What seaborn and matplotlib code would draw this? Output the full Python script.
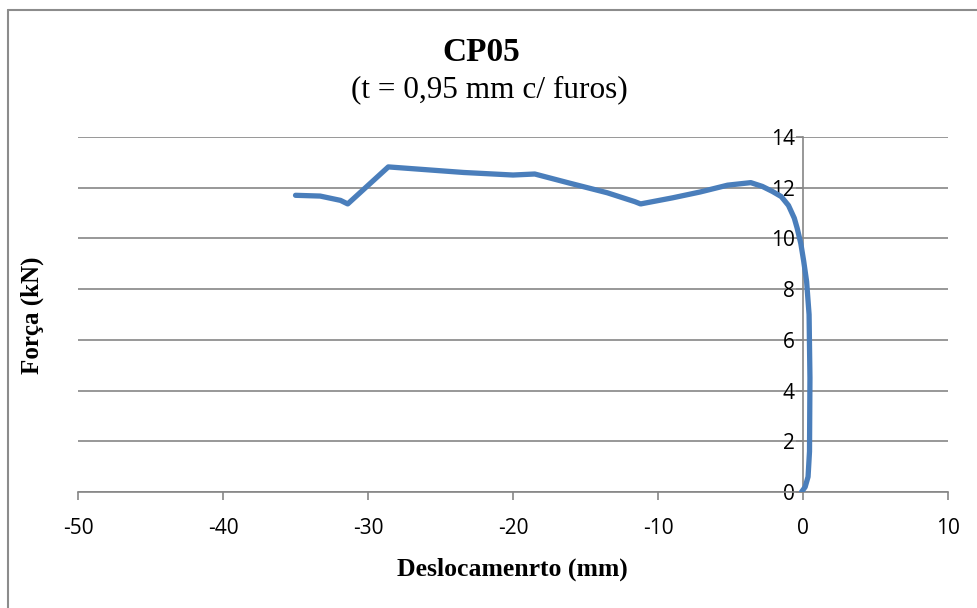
import matplotlib
matplotlib.use("Agg")
import matplotlib.pyplot as plt
import seaborn as sns
import pandas as pd
from matplotlib.lines import Line2D

# Data (loading order)
deslocamento = [-0.1, 0.15, 0.35, 0.45, 0.48, 0.48, 0.42, 0.25, 0.05, -0.15, -0.4, -0.6,
                -1.0, -1.5, -2.1, -2.8, -3.6, -5.2, -7.1, -9.0, -11.2, -11.6, -13.5,
                -16.1, -18.5, -20.0, -23.4, -28.6, -31.4, -31.9, -33.3, -35.0]
forca = [0.0, 0.2, 0.6, 1.6, 3.0, 6.0, 7.0, 8.3, 9.1, 9.8, 10.4, 10.8,
         11.3, 11.65, 11.85, 12.05, 12.2, 12.1, 11.83, 11.6, 11.36, 11.45, 11.8,
         12.18, 12.54, 12.5, 12.6, 12.82, 11.36, 11.5, 11.67, 11.7]
x_ticks = [-50, -40, -30, -20, -10, 0, 10]
y_ticks = [0, 2, 4, 6, 8, 10, 12, 14]

df = pd.DataFrame({"x": deslocamento, "y": forca})

sns.set_style("white")
plt.rcParams["text.color"] = "black"
plt.rcParams["xtick.color"] = "black"
plt.rcParams["ytick.color"] = "black"

fig = plt.figure(figsize=(9.78, 6.08), dpi=100)
ax = fig.add_axes([0.0798, 0.1908, 0.8895, 0.5839])

grid_c = "#868686"
for yv in y_ticks:
    ax.axhline(yv, color=grid_c, lw=1.2, zorder=0)

sns.lineplot(data=df, x="x", y="y", sort=False, color="#4A7EBB", lw=3.8,
             ax=ax, zorder=3, solid_capstyle="round")

ax.set_xlim(-50, 10)
ax.set_ylim(0, 14)
ax.set_xticks(x_ticks)
ax.set_yticks(y_ticks)
ax.set_xticklabels([str(v) for v in x_ticks])
ax.set_yticklabels([str(v) for v in y_ticks])

for s in ["top", "right"]:
    ax.spines[s].set_visible(False)
ax.spines["left"].set_position(("data", 0))
ax.spines["left"].set_color(grid_c)
ax.spines["left"].set_linewidth(1.2)
ax.spines["bottom"].set_color(grid_c)
ax.spines["bottom"].set_linewidth(1.2)

ax.tick_params(axis="x", direction="out", length=6, width=1.2, color=grid_c,
               labelsize=15, pad=13, bottom=True, labelcolor="black")
ax.tick_params(axis="y", direction="out", length=5, width=1.2, color=grid_c,
               labelsize=15, pad=1, left=True, labelcolor="black")
for lab in ax.get_xticklabels() + ax.get_yticklabels():
    lab.set_fontfamily("Open Sans")

ax.set_xlabel("")
ax.set_ylabel("")

serif = "Liberation Serif"
fig.text(0.492, 0.914, "CP05", ha="center", va="center", fontsize=24,
         fontweight="bold", family=serif)
fig.text(0.5, 0.852, "(t = 0,95 mm c/ furos)", ha="center", va="center",
         fontsize=22.5, family=serif)
fig.text(0.524, 0.063, "Deslocamenrto (mm)", ha="center", va="center",
         fontsize=18.5, fontweight="bold", family=serif)
fig.text(0.033, 0.482, "Força (kN)", ha="center", va="center", rotation=90,
         fontsize=18, fontweight="bold", family=serif)

# outer chart border
fig.add_artist(Line2D([0.0085, 0.0085], [0, 0.984], transform=fig.transFigure,
                      color="#8c8c8c", lw=1.5))
fig.add_artist(Line2D([0.0085, 1.0], [0.984, 0.984], transform=fig.transFigure,
                      color="#8c8c8c", lw=1.5))

fig.savefig("out.png", dpi=100)
plt.close(fig)
